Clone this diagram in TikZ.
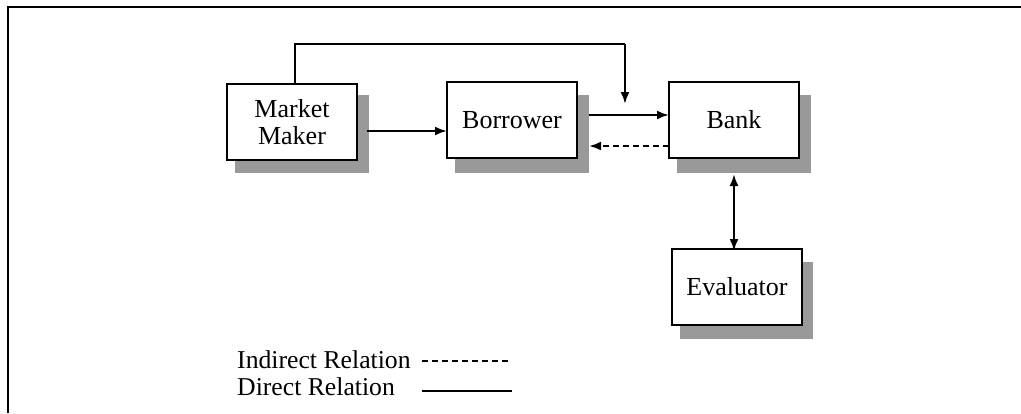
\documentclass[tikz,border=0pt]{standalone}
\usepackage{fontspec}
\setmainfont{Liberation Serif}
\usetikzlibrary{calc,arrows.meta}
\begin{document}
\begin{tikzpicture}[x=1pt,y=-1pt,
  box/.style={draw,line width=1.3pt,fill=white,minimum width=130pt,minimum height=76pt,inner sep=0pt,align=center,font=\fontsize{26}{27}\selectfont},
  shade/.style={fill=black!40,draw=none},
  tip/.tip={Latex[length=12pt,width=9pt]},
  arr/.style={line width=2.2pt,-tip},
  darr/.style={line width=2.2pt,tip-tip},
  dsh/.style={line width=2.2pt,dash pattern=on 6pt off 4pt},
  leg/.style={anchor=base west,inner sep=0pt,font=\fontsize{25.7}{26}\selectfont}]
\useasboundingbox (0,0) rectangle (1021,413);
\fill[white] (0,0) rectangle (1021,413);
\draw[line width=2.4pt] (8,413) -- (8,7) -- (1021,7);
% shadows
\fill[shade] (235,95) rectangle (369,173);
\fill[shade] (455,95) rectangle (589,173);
\fill[shade] (677,95) rectangle (811,173);
\fill[shade] (680,262) rectangle (813,339);
% nodes
\node[box] (mm) at (292,122) {Market\\Maker};
\node[box] (bor) at (512,120) {Borrower};
\node[box] (bank) at (734,120) {Bank};
\node[box] (ev) at (737,287) {Evaluator};
% connector end points
\coordinate (tc) at (625,44);
\coordinate (te) at (625,104);
\coordinate (a1) at (367,131);
\coordinate (a2) at (447,131);
\coordinate (b1) at (589,115);
\coordinate (b2) at (669,115);
\coordinate (d1) at (669,146);
\coordinate (d2) at (589,146);
\coordinate (e1) at (734,174);
\coordinate (e2) at (734,251);
% connectors
\draw[line width=2.2pt] ([xshift=3pt]mm.north) |- (tc);
\draw[arr] (tc) -- (te);
\draw[arr] (a1) -- (a2);
\draw[arr] (b1) -- (b2);
\draw[dsh,-tip] (d1) -- (d2);
\draw[darr] (e1) -- (e2);
% legend
\node[leg] (li) at (237,368) {Indirect Relation};
\node[leg] (ld) at (237,395) {Direct Relation};
\coordinate (la) at (422,361);
\coordinate (lb) at (510,361);
\coordinate (lc) at (422,391);
\coordinate (lf) at (512,391);
\draw[dsh] (la) -- (lb);
\draw[line width=2.2pt] (lc) -- (lf);
\end{tikzpicture}
\end{document}
